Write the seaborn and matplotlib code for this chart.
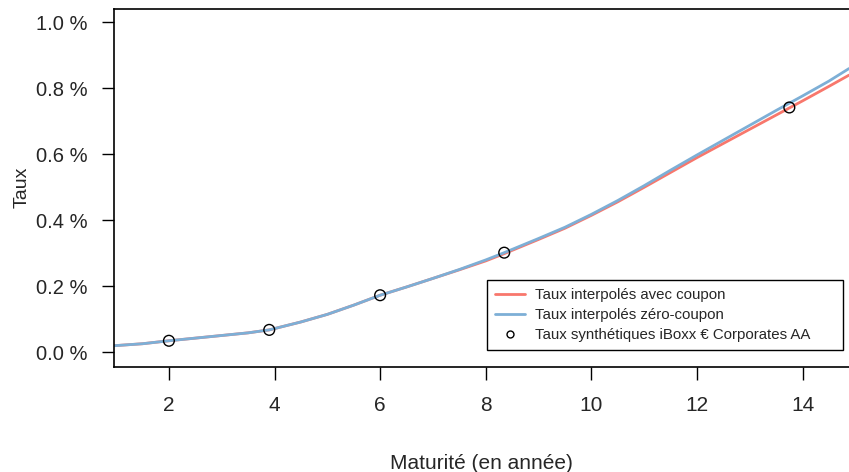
import matplotlib
matplotlib.use("Agg")
import matplotlib.pyplot as plt
import seaborn as sns
import pandas as pd
from matplotlib.lines import Line2D

# Data (in %)
x_curve = [0.96, 1.5, 2.0, 2.5, 3.0, 3.5, 3.9, 4.5, 5.0, 5.5, 6.0, 6.5, 7.0, 7.5,
           8.0, 8.35, 9.0, 9.5, 10.0, 10.5, 11.0, 11.5, 12.0, 12.5, 13.0, 13.5,
           14.0, 14.5, 14.88]
y_coupon = [0.020, 0.026, 0.035, 0.043, 0.051, 0.059, 0.068, 0.092, 0.115, 0.143,
            0.173, 0.198, 0.224, 0.250, 0.277, 0.299, 0.342, 0.376, 0.415, 0.456,
            0.500, 0.545, 0.590, 0.633, 0.676, 0.719, 0.762, 0.806, 0.840]
y_zero = [0.020, 0.026, 0.035, 0.043, 0.051, 0.059, 0.068, 0.092, 0.115, 0.143,
          0.173, 0.198, 0.224, 0.251, 0.280, 0.302, 0.345, 0.379, 0.418, 0.460,
          0.505, 0.552, 0.598, 0.643, 0.688, 0.733, 0.777, 0.822, 0.860]
x_points = [2.0, 3.9, 6.0, 8.35, 13.75]
y_points = [0.035, 0.068, 0.173, 0.302, 0.742]
yticks = [0.0, 0.2, 0.4, 0.6, 0.8, 1.0]
xticks = [2, 4, 6, 8, 10, 12, 14]

labels = ["Taux interpolés avec coupon", "Taux interpolés zéro-coupon",
          "Taux synthétiques iBoxx € Corporates AA"]

sns.set_style("white")
plt.rcParams['font.family'] = ['Liberation Sans', 'DejaVu Sans']

fig = plt.figure(figsize=(8.49, 4.72), dpi=100)
W, H = 849, 472
left, right, top, bottom = 114, 849, 8.5, 367
ax = fig.add_axes([left / W, 1 - bottom / H, (right - left) / W, (bottom - top) / H])

red = "#F8776C"
blue = "#7DAFD6"

df = pd.DataFrame({"x": x_curve, "c": y_coupon, "z": y_zero})
sns.lineplot(data=df, x="x", y="c", ax=ax, color=red, linewidth=2.0, sort=False)
sns.lineplot(data=df, x="x", y="z", ax=ax, color=blue, linewidth=2.0, sort=False)
sns.scatterplot(x=x_points, y=y_points, ax=ax, s=60, facecolor="none",
                edgecolor="black", linewidth=1.0, zorder=5)

ax.set_xlim(0.96, 14.88)
ax.set_ylim(-0.0445, 1.042)
ax.set_xticks(xticks)
ax.set_xticklabels([str(t) for t in xticks], fontsize=15)
ax.set_yticks(yticks)
ax.set_yticklabels([f"{v:.1f} %" for v in yticks], fontsize=14.5)
ax.tick_params(axis="both", direction="out", length=9, width=1, color="black",
               left=True, bottom=True)
ax.tick_params(axis="x", pad=12)
ax.tick_params(axis="y", pad=10)
for s in ["left", "bottom", "top"]:
    ax.spines[s].set_color("black")
    ax.spines[s].set_linewidth(1.2)
ax.spines["right"].set_visible(False)

ax.set_xlabel("Maturité (en année)", fontsize=15, labelpad=28)
ax.set_ylabel("Taux", fontsize=14, labelpad=4)

handles = [Line2D([0], [0], color=red, lw=2),
           Line2D([0], [0], color=blue, lw=2),
           Line2D([0], [0], marker="o", ls="none", markerfacecolor="none",
                  markeredgecolor="black", markersize=5)]
x0 = (486.7 - left) / (right - left)
x1 = (842.7 - left) / (right - left)
y0 = (bottom - 350) / (bottom - top)
leg = ax.legend(handles, labels, loc="lower left",
                bbox_to_anchor=(x0, y0, x1 - x0, 0.2), mode="expand",
                fontsize=10.8, frameon=True, fancybox=False, edgecolor="black",
                framealpha=1, borderaxespad=0, handlelength=2.0, handletextpad=0.7,
                labelspacing=0.4, borderpad=0.55)
leg.get_frame().set_linewidth(1.0)

fig.savefig("out.png", dpi=100)
